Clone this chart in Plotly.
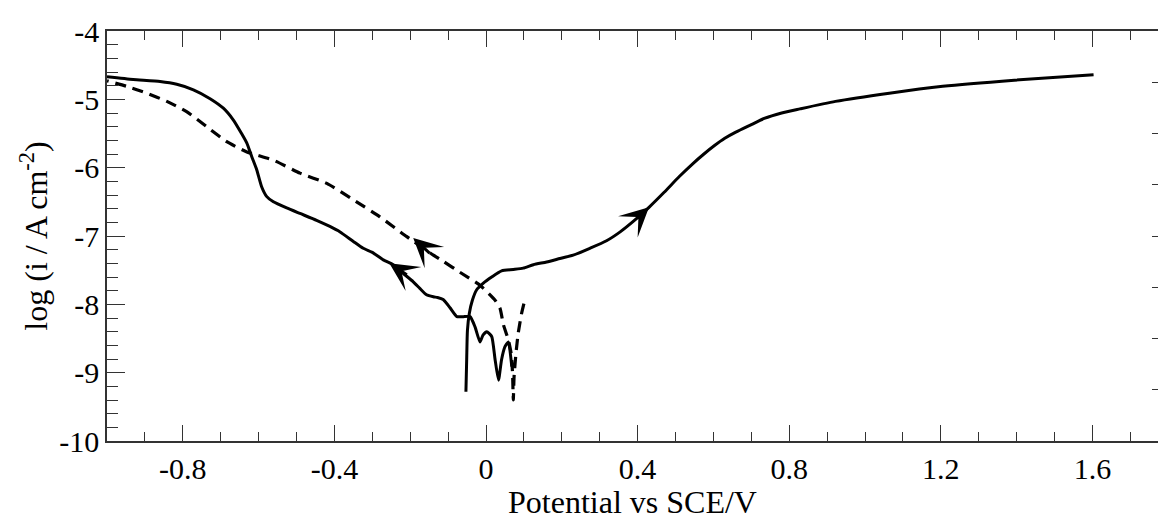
import plotly.graph_objects as go

# Forward (solid) cathodic sweep: noisy start near OCP, then the cathodic branch
cath_E = [0.068, 0.059, 0.050, 0.041, 0.033, 0.024, 0.015, 0.002, -0.008, -0.016,
          -0.029, -0.042, -0.060, -0.077, -0.095, -0.113, -0.128, -0.139, -0.157, -0.174,
          -0.192, -0.218, -0.245, -0.271, -0.297, -0.324, -0.350, -0.385, -0.412, -0.447,
          -0.491, -0.526, -0.561, -0.579, -0.592, -0.605, -0.618, -0.631, -0.645, -0.667,
          -0.693, -0.728, -0.772, -0.816, -0.860, -0.931, -1.000]
cath_logi = [-8.91, -8.55, -8.62, -8.81, -9.11, -8.81, -8.47, -8.40, -8.45, -8.55,
             -8.33, -8.18, -8.18, -8.18, -8.05, -7.93, -7.90, -7.89, -7.86, -7.77,
             -7.67, -7.55, -7.42, -7.35, -7.25, -7.18, -7.08, -6.94, -6.86, -6.77,
             -6.67, -6.59, -6.50, -6.42, -6.28, -6.03, -5.84, -5.64, -5.50, -5.30,
             -5.13, -4.99, -4.86, -4.78, -4.74, -4.71, -4.67]

# Forward (solid) anodic sweep from the corrosion potential
anod_E = [-0.053, -0.051, -0.049, -0.044, -0.036, -0.025, -0.007, 0.015, 0.041, 0.072,
          0.098, 0.125, 0.160, 0.195, 0.230, 0.274, 0.318, 0.354, 0.390, 0.430,
          0.470, 0.510, 0.546, 0.575, 0.602, 0.630, 0.659, 0.700, 0.734, 0.780,
          0.828, 0.922, 1.064, 1.205, 1.394, 1.603]
anod_logi = [-9.28, -8.81, -8.38, -8.13, -7.94, -7.79, -7.69, -7.60, -7.51, -7.49,
             -7.47, -7.42, -7.38, -7.33, -7.28, -7.18, -7.07, -6.94, -6.78, -6.58,
             -6.36, -6.13, -5.94, -5.80, -5.68, -5.57, -5.48, -5.37, -5.28, -5.20,
             -5.14, -5.03, -4.91, -4.81, -4.72, -4.64]

# Reverse (dashed) sweep
rev_E = [0.100, 0.094, 0.085, 0.079, 0.074, 0.072, 0.070, 0.066, 0.059, 0.046,
         0.037, 0.024, -0.016, -0.069, -0.113, -0.139, -0.209, -0.280, -0.350, -0.420,
         -0.491, -0.561, -0.631, -0.684, -0.737, -0.790, -0.842, -0.895, -0.948, -1.000]
rev_logi = [-7.99, -8.13, -8.42, -8.72, -9.06, -9.40, -9.00, -8.71, -8.52, -8.30,
            -8.06, -7.94, -7.72, -7.53, -7.37, -7.28, -7.01, -6.72, -6.47, -6.23,
            -6.08, -5.89, -5.77, -5.62, -5.40, -5.18, -5.03, -4.91, -4.81, -4.73]

# Sweep-direction arrows: (tail E, tail log i, tip E, tip log i)
arrows = [
    (-0.205, -7.58, -0.255, -7.40),
    (-0.145, -7.27, -0.192, -7.03),
    (0.395, -6.76, 0.430, -6.58),
]

x_tickvals = [-0.8, -0.4, 0, 0.4, 0.8, 1.2, 1.6]
x_ticktext = ["-0.8", "-0.4", "0", "0.4", "0.8", "1.2", "1.6"]
y_tickvals = [-10, -9, -8, -7, -6, -5, -4]
y_ticktext = ["-10", "-9", "-8", "-7", "-6", "-5", "-4"]
# unlabelled scale on the right-hand frame edge (eight equal divisions)
right_tickvals = [1, 2, 3, 4, 5, 6, 7]

FONT = "Liberation Serif, Times New Roman, serif"
INK = "black"
FRAME = "#333"

fig = go.Figure()
fig.add_trace(go.Scatter(x=cath_E, y=cath_logi, mode="lines",
                         line=dict(color=INK, width=3, shape="spline", smoothing=0.5),
                         showlegend=False))
fig.add_trace(go.Scatter(x=anod_E, y=anod_logi, mode="lines",
                         line=dict(color=INK, width=3, shape="spline", smoothing=0.6),
                         showlegend=False))
fig.add_trace(go.Scatter(x=rev_E, y=rev_logi, mode="lines",
                         line=dict(color=INK, width=3.2, dash="11px,7px",
                                   shape="spline", smoothing=0.5),
                         showlegend=False))
# empty trace so the right-hand tick axis is laid out
fig.add_trace(go.Scatter(x=[], y=[], yaxis="y2", mode="lines",
                         showlegend=False, hoverinfo="skip"))

for ax0, ay0, x1, y1 in arrows:
    fig.add_annotation(x=x1, y=y1, ax=ax0, ay=ay0, xref="x", yref="y",
                       axref="x", ayref="y", text="", showarrow=True,
                       arrowhead=3, arrowsize=1.6, arrowwidth=3,
                       arrowcolor=INK, standoff=0, startstandoff=0)

tick_font = dict(family=FONT, size=30, color=INK)
title_font = dict(family=FONT, size=32, color=INK)

fig.update_layout(
    width=1158, height=520,
    margin=dict(l=107, r=0, t=31, b=79),
    paper_bgcolor="white", plot_bgcolor="white",
    font=dict(family=FONT, color=INK),
    showlegend=False,
    xaxis=dict(
        range=[-1.0, 1.773], tickvals=x_tickvals, ticktext=x_ticktext,
        showgrid=False, zeroline=False, showline=True, linecolor=FRAME,
        linewidth=1.5, mirror="ticks", ticks="inside", ticklen=16,
        tickcolor=FRAME, tickwidth=1.3, tickfont=tick_font,
        minor=dict(ticks="inside", ticklen=9, dtick=0.1, tick0=0,
                   tickcolor=FRAME, tickwidth=1.2),
        title=dict(text="Potential vs SCE/V", font=title_font, standoff=4),
    ),
    yaxis=dict(
        range=[-10, -4], tickvals=y_tickvals, ticktext=y_ticktext,
        showgrid=False, zeroline=False, showline=True, linecolor=FRAME,
        linewidth=1.5, mirror=False, ticks="inside", ticklen=18,
        tickcolor=FRAME, tickwidth=1.3, tickfont=tick_font,
        minor=dict(ticks="inside", ticklen=11, dtick=0.2, tick0=0,
                   tickcolor=FRAME, tickwidth=1.2),
        title=dict(text="log (i / A cm<sup>-2</sup>)", font=title_font,
                   standoff=2),
    ),
    yaxis2=dict(
        overlaying="y", side="right", range=[0, 8], tickvals=right_tickvals,
        showticklabels=False, showgrid=False, zeroline=False, showline=False,
        ticks="inside", ticklen=6, tickcolor=FRAME, tickwidth=1.2,
    ),
)

fig.write_html("out.html")
